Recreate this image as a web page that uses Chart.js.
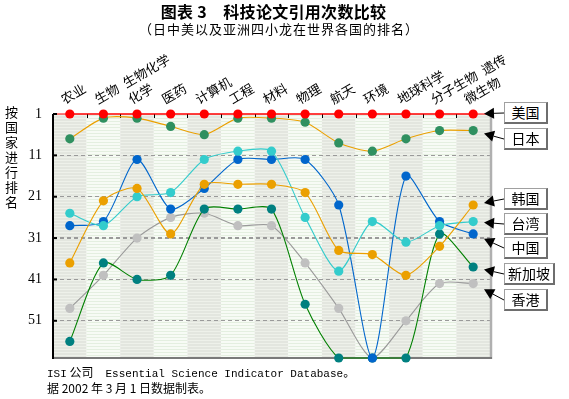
<!DOCTYPE html>
<html><head><meta charset="utf-8">
<script src="https://cdn.jsdelivr.net/npm/chart.js@4/dist/chart.umd.min.js"></script>
<style>
html,body{margin:0;padding:0;background:#fff;width:569px;height:399px;overflow:hidden;}
#wrap{position:relative;width:569px;height:399px;}
canvas{position:absolute;left:0;top:0;}
.t{position:absolute;font-family:"Noto Sans CJK SC";color:#000;white-space:nowrap;}
#title{left:0;width:547px;top:1px;text-align:center;font-size:16px;font-weight:bold;line-height:20px;letter-spacing:0.3px;}
#sub{left:0;width:558px;top:20px;text-align:center;font-size:13px;letter-spacing:1px;line-height:17px;}
#ytitle{left:4px;top:104px;font-size:13px;line-height:15px;width:15px;text-align:center;}
#foot{left:47px;top:365px;font-size:12px;line-height:13px;}
#foot .m{font-family:"Liberation Mono";font-size:11px;}
.box{position:absolute;left:504px;width:41px;height:19px;background:#fff;border:1px solid #a0a0a0;border-right:2px solid #6e6e6e;border-bottom:2px solid #6e6e6e;font-family:"Noto Sans CJK SC";font-size:14px;line-height:19px;text-align:center;color:#000;}
</style></head>
<body><div id="wrap">
<canvas id="c" width="569" height="399"></canvas>
<div class="t" id="title">图表 3　科技论文引用次数比较</div>
<div class="t" id="sub">（日中美以及亚洲四小龙在世界各国的排名）</div>
<div class="t" id="ytitle">按<br>国<br>家<br>进<br>行<br>排<br>名</div>
<div class="t" id="foot"><span class="m">ISI</span> 公司　<span class="m">Essential Science Indicator Database</span>。<br>据 2002 年 3 月 1 日数据制表。</div>
<div id="boxes"></div>
</div>
<script>
// ---- data ----
const categories = ['农业','生物\u2002生物化学','化学','医药','计算机','工程','材料','物理','航天','环境','地球科学','分子生物\u2002遗传','微生物'];
const seriesNames = ['美国','日本','韩国','台湾','中国','新加坡','香港'];
const usa       = [1,1,1,1,1,1,1,1,1,1,1,1,1];
const japan     = [7,2,2,4,6,2,2,3,8,10,7,5,5];
const korea     = [37,22,19,30,18,18,18,20,34,35,40,33,23];
const taiwan    = [25,28,21,20,12,10,10,26,39,27,32,28,27];
const china     = [28,27,12,24,19,12,12,12,23,60,16,27,30];
const singapore = [56,37,41,40,24,24,24,47,60,60,60,30,38];
const hongkong  = [48,40,31,26,25,28,28,37,48,60,51,42,42];
const rankTicks = [1,11,21,31,41,51];
const rankMin = 1, rankMax = 60;

// ---- layout / style ----
const seriesData = [usa,japan,korea,taiwan,china,singapore,hongkong];
const lineColors  = ['#ff0000','#eba000','#eba000','#33cccc','#0066cc','#008000','#9a9a9a'];
const pointColors = ['#ff0000','#2f9060','#eba000','#33cccc','#0066cc','#008080','#c0c0c0'];
const boxTops   = [102,128,188,213,237,263,289];
const boxWidths = [41,41,41,41,41,48,41];
const BOX_LEFT = 504, BOX_H = 22;

const boxesEl = document.getElementById('boxes');
seriesNames.forEach((n,i)=>{
  const d = document.createElement('div');
  d.className='box'; d.textContent=n;
  d.style.top = boxTops[i]+'px'; d.style.width = boxWidths[i]+'px';
  boxesEl.appendChild(d);
});

const bgPlugin = {
  id:'bg',
  beforeDraw(chart){
    const {ctx, chartArea:a, scales:{x}} = chart;
    const half = (x.getPixelForValue(1)-x.getPixelForValue(0))/2;
    ctx.save();
    for(let i=0;i<categories.length;i++){
      const c = x.getPixelForValue(i);
      const l = c-half, w = 2*half;
      const dark = i%2===0;
      ctx.fillStyle = dark ? '#e3e6df' : '#f7fbf5';
      ctx.fillRect(l, a.top, w, a.bottom-a.top);
      ctx.fillStyle = dark ? '#eef1ea' : '#e4efe0';
      for(let y=Math.round(a.top)+1; y<a.bottom; y+=3) ctx.fillRect(l, y, w, 1);
    }
    ctx.restore();
  },
  beforeDatasetsDraw(chart){
    const {ctx, chartArea:a, scales:{x,y}} = chart;
    const half = (x.getPixelForValue(1)-x.getPixelForValue(0))/2;
    ctx.save();
    // right border
    ctx.strokeStyle='#b0b0b0'; ctx.lineWidth=2.5;
    ctx.beginPath(); ctx.moveTo(a.right+1, a.top); ctx.lineTo(a.right+1, a.bottom+1); ctx.stroke();
    // bottom border
    ctx.strokeStyle='#7a7a7a'; ctx.lineWidth=2;
    ctx.beginPath(); ctx.moveTo(a.left, a.bottom); ctx.lineTo(a.right+2, a.bottom); ctx.stroke();
    // top border (red)
    ctx.strokeStyle='#ff0000'; ctx.lineWidth=1.2;
    ctx.beginPath(); ctx.moveTo(a.left, a.top); ctx.lineTo(a.right, a.top); ctx.stroke();
    // left border
    ctx.strokeStyle='#000'; ctx.lineWidth=2;
    ctx.beginPath(); ctx.moveTo(a.left, a.top); ctx.lineTo(a.left, a.bottom+1); ctx.stroke();
    // inward ticks on top at category boundaries
    ctx.lineWidth=1; ctx.strokeStyle='#000';
    for(let i=1;i<categories.length;i++){
      const bx = Math.round(x.getPixelForValue(i)-half)+0.5;
      ctx.beginPath(); ctx.moveTo(bx, a.top); ctx.lineTo(bx, a.top+4); ctx.stroke();
    }
    // inward ticks on y axis
    ctx.lineWidth=2;
    rankTicks.forEach(v=>{
      const py = y.getPixelForValue(v);
      ctx.beginPath(); ctx.moveTo(a.left, py); ctx.lineTo(a.left+4, py); ctx.stroke();
    });
    ctx.restore();
  },
  afterDraw(chart){
    const {ctx, scales:{x,y}} = chart;
    const last = categories.length-1;
    ctx.save();
    ctx.strokeStyle='#000'; ctx.fillStyle='#000'; ctx.lineWidth=1;
    seriesData.forEach((d,i)=>{
      const px = x.getPixelForValue(last), py = y.getPixelForValue(d[last]);
      const tx = BOX_LEFT, ty = boxTops[i] + BOX_H/2;
      const t = (484 - px)/(tx - px);
      const hx = px + t*(tx-px), hy = py + t*(ty-py);
      const len = Math.hypot(tx-hx, ty-hy);
      const ux = (tx-hx)/len, uy = (ty-hy)/len;
      const L = 10, W = 5.5;
      ctx.beginPath(); ctx.moveTo(hx+ux*L, hy+uy*L); ctx.lineTo(tx, ty); ctx.stroke();
      ctx.beginPath();
      ctx.moveTo(hx, hy);
      ctx.lineTo(hx+ux*L - uy*W, hy+uy*L + ux*W);
      ctx.lineTo(hx+ux*L + uy*W, hy+uy*L - ux*W);
      ctx.closePath(); ctx.fill();
    });
    ctx.restore();
  }
};

const datasets = seriesData.map((d,i)=>({
  label: seriesNames[i],
  data: d,
  borderColor: lineColors[i],
  backgroundColor: pointColors[i],
  pointBackgroundColor: pointColors[i],
  pointBorderWidth: 0,
  pointRadius: 4.6,
  borderWidth: 1.1,
  tension: i===0 ? 0 : 0.25,
  clip: false,
  fill: false
}));

new Chart(document.getElementById('c'), {
  type:'line',
  data:{labels:categories, datasets},
  plugins:[bgPlugin],
  options:{
    responsive:false, animation:false, devicePixelRatio:1,
    layout:{padding:{left:0, top:40, right:79, bottom:41}},
    plugins:{legend:{display:false}, tooltip:{enabled:false}, title:{display:false}},
    scales:{
      x:{
        type:'category', position:'top', offset:true,
        grid:{display:false, drawTicks:false},
        border:{display:false},
        ticks:{autoSkip:false, maxRotation:30, minRotation:30, padding:7, color:'#000',
               font:{family:'"Noto Sans CJK SC"', size:13}},
        afterFit:(s)=>{ s.height = 74; }
      },
      y:{
        type:'linear', position:'left', reverse:true, min:rankMin, max:rankMax,
        afterBuildTicks:(s)=>{ s.ticks = rankTicks.map(v=>({value:v})); },
        grid:{drawTicks:false,
              color:(c)=> (c.tick && c.tick.value===rankMin) ? 'rgba(0,0,0,0)' : '#9a9a9a',
              lineWidth:(c)=> (c.tick && c.tick.value===31) ? 2 : 1},
        border:{display:false, dash:[4,3]},
        ticks:{padding:11, color:'#000', font:{family:'"Liberation Serif"', size:14}},
        afterFit:(s)=>{ s.width = 53; }
      }
    }
  }
});
</script>
</body></html>
